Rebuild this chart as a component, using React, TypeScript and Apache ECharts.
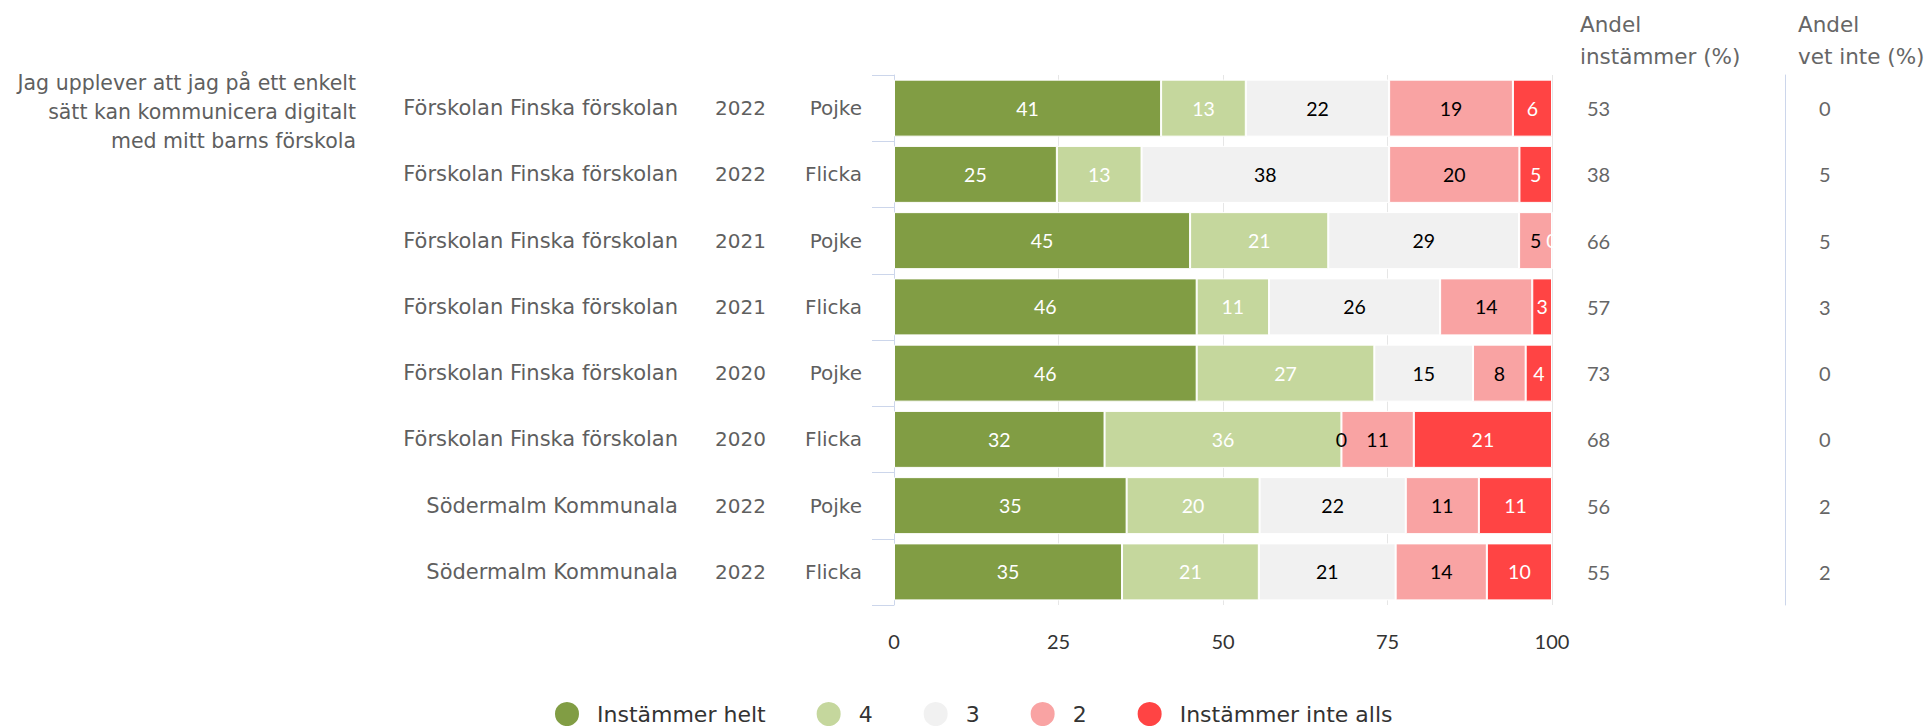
import React, { useEffect, useRef } from "react";
import * as echarts from "echarts";

const schools = [
  "Förskolan Finska förskolan",
  "Förskolan Finska förskolan",
  "Förskolan Finska förskolan",
  "Förskolan Finska förskolan",
  "Förskolan Finska förskolan",
  "Förskolan Finska förskolan",
  "Södermalm Kommunala",
  "Södermalm Kommunala",
];
const years = ["2022", "2022", "2021", "2021", "2020", "2020", "2022", "2022"];
const genders = ["Pojke", "Flicka", "Pojke", "Flicka", "Pojke", "Flicka", "Pojke", "Flicka"];

const seriesNames = ["Instämmer helt", "4", "3", "2", "Instämmer inte alls"];
const instammerHelt = [41, 25, 45, 46, 46, 32, 35, 35];
const fyra = [13, 13, 21, 11, 27, 36, 20, 21];
const tre = [22, 38, 29, 26, 15, 0, 22, 21];
const tva = [19, 20, 5, 14, 8, 11, 11, 14];
const instammerInteAlls = [6, 5, 0, 3, 4, 21, 11, 10];

const andelInstammer = [53, 38, 66, 57, 73, 68, 56, 55];
const andelVetInte = [0, 5, 5, 3, 0, 0, 2, 2];

const xTicks = [0, 25, 50, 75, 100];

const colors = ["#819d44", "#c5d79d", "#f1f1f1", "#f9a3a3", "#ff4444"];
const labelColors = ["#ffffff", "#ffffff", "#000000", "#000000", "#ffffff"];

const NUM_FONT = "Lato";
const TXT_FONT = "DejaVu Sans";

export default function App() {
  const ref = useRef<HTMLDivElement>(null);

  useEffect(() => {
    if (!ref.current) return;
    const chart = echarts.init(ref.current, null, { renderer: "svg" });
    const raw = [instammerHelt, fyra, tre, tva, instammerInteAlls];
    const totals = genders.map((_, i) => raw.reduce((s, arr) => s + arr[i], 0));

    const series = raw.map((arr, si) => ({
      name: seriesNames[si],
      type: "bar",
      stack: "total",
      yAxisIndex: 0,
      barWidth: 57,
      data: arr.map((v, i) => (v / totals[i]) * 100),
      itemStyle: { color: colors[si], borderColor: "#ffffff", borderWidth: 1 },
      label: {
        show: true,
        position: "inside",
        fontFamily: NUM_FONT,
        fontSize: 19.5,
        color: labelColors[si],
        formatter: (p: any) => String(arr[p.dataIndex]),
      },
      emphasis: { disabled: true },
    }));

    const catBase = {
      type: "category",
      inverse: true,
      gridIndex: 0,
      axisTick: { show: false },
      axisLine: { show: false },
      splitLine: { show: false },
    };

    chart.setOption({
      animation: false,
      color: colors,
      textStyle: { fontFamily: NUM_FONT },
      grid: { left: 894, right: 375, top: 75, bottom: 121, containLabel: false },
      xAxis: {
        type: "value",
        min: 0,
        max: 100,
        interval: 25,
        axisLine: { show: false },
        axisTick: { show: false },
        splitLine: { show: true, lineStyle: { color: "#e6e6e6", width: 1 } },
        axisLabel: {
          margin: 26,
          fontFamily: NUM_FONT,
          fontSize: 20,
          color: "#333333",
          formatter: (v: number) => (xTicks.includes(v) ? String(v) : ""),
        },
      },
      yAxis: [
        {
          ...catBase,
          data: genders,
          position: "left",
          axisLine: { show: true, lineStyle: { color: "#ccd6eb", width: 1 } },
          axisTick: { show: true, length: 22, lineStyle: { color: "#ccd6eb", width: 1 } },
          axisLabel: { margin: 32, fontFamily: TXT_FONT, fontSize: 20, color: "#5f5f5f" },
        },
        {
          ...catBase,
          data: years,
          position: "left",
          axisLabel: { margin: 128, fontFamily: TXT_FONT, fontSize: 20, color: "#5f5f5f" },
        },
        {
          ...catBase,
          data: schools,
          position: "left",
          axisLabel: { margin: 216, fontFamily: TXT_FONT, fontSize: 21, color: "#5f5f5f" },
        },
        {
          ...catBase,
          data: andelInstammer.map(String),
          position: "right",
          axisLabel: { margin: 35, fontFamily: NUM_FONT, fontSize: 20, color: "#666666" },
        },
        {
          ...catBase,
          data: andelVetInte.map(String),
          position: "right",
          offset: 233,
          axisLine: { show: true, lineStyle: { color: "#ccd6eb", width: 1 } },
          axisLabel: { margin: 34, fontFamily: NUM_FONT, fontSize: 20, color: "#666666" },
        },
      ],
      legend: {
        data: seriesNames,
        left: 553,
        top: 700,
        padding: 0,
        icon: "circle",
        itemWidth: 26,
        itemHeight: 26,
        itemGap: 49,
        selectedMode: false,
        textStyle: {
          fontFamily: TXT_FONT,
          fontSize: 22,
          color: "#333333",
          padding: [0, 0, 0, 12],
        },
      },
      graphic: [
        {
          type: "text",
          x: 356,
          y: 112,
          style: {
            text: "Jag upplever att jag på ett enkelt\nsätt kan kommunicera digitalt\nmed mitt barns förskola",
            align: "right",
            verticalAlign: "middle",
            fontFamily: TXT_FONT,
            fontSize: 20.5,
            lineHeight: 29,
            fill: "#5f5f5f",
          },
        },
        {
          type: "text",
          x: 1580,
          y: 40,
          style: {
            text: "Andel\ninstämmer (%)",
            align: "left",
            verticalAlign: "middle",
            fontFamily: TXT_FONT,
            fontSize: 21.5,
            lineHeight: 32,
            fill: "#666666",
          },
        },
        {
          type: "text",
          x: 1798,
          y: 40,
          style: {
            text: "Andel\nvet inte (%)",
            align: "left",
            verticalAlign: "middle",
            fontFamily: TXT_FONT,
            fontSize: 21.5,
            lineHeight: 32,
            fill: "#666666",
          },
        },
      ],
      series,
    });

    return () => chart.dispose();
  }, []);

  return (
    <div
      ref={ref}
      style={{ position: "absolute", left: 0, top: 0, width: 1927, height: 726 }}
    />
  );
}
